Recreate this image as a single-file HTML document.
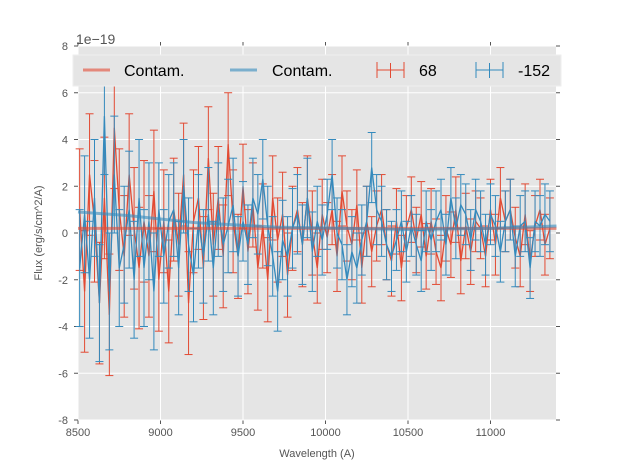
<!DOCTYPE html>
<html><head><meta charset="utf-8"><style>
body{margin:0;background:#fff;font-family:"Liberation Sans",sans-serif}
text{font-family:"Liberation Sans",sans-serif}
</style></head><body>
<svg id="c" width="617" height="467"></svg>
<script>
const startWave = 8510, stepWave = 30;
const redFlux = [1.0,-2.5,2.5,0.5,-3,1.5,-3.5,4.5,1.0,-1.0,2.5,0.2,-1.5,0.5,-1.0,1.8,-2.0,0.5,-2.5,1.0,-0.5,2.5,-3.0,0.5,1.5,-1.5,3.2,-0.5,1.5,-1.0,3.8,0.5,-1.0,2.0,-0.8,1.2,-1.5,0.3,-2.0,1.5,-0.3,0.8,-1.8,0.2,1.0,-0.5,1.5,0.0,-1.5,0.8,-0.2,1.0,-1.0,1.8,0.3,-0.5,1.2,-1.5,0.5,-0.8,0.3,1.0,-0.5,-1.2,0.5,-1.5,0.2,1.0,-0.3,0.8,-1.0,0.5,-0.8,-1.5,0.2,-0.5,1.0,-1.2,0.3,-0.8,0.5,0.2,-1.0,1.0,-0.5,1.5,0.5,1.0,-0.2,-1.0,0.8,-1.2,0.3,1.0,-0.5,0.2];
const blueFlux = [-1.5,0.8,-2.0,1.5,-3.0,5.0,-2.5,2.5,-1.5,-0.5,1.0,-2.0,1.5,-1.5,0.5,-2.5,1.0,-1.0,0.5,1.0,-1.5,2.0,-0.5,-1.8,0.5,-1.0,0.8,-1.5,1.0,-0.5,0.3,1.2,-1.0,0.5,-0.5,1.5,0.8,2.3,0.3,-1.0,-2.5,-0.3,-1.0,0.2,0.8,-0.5,1.5,-0.8,0.5,-0.3,0.8,2.5,0.0,-0.5,-2.0,-0.8,-1.5,-0.3,0.5,2.8,1.0,0.5,-0.5,-1.0,-0.3,0.5,-0.8,0.3,-0.5,-1.2,0.5,-0.3,0.5,1.0,-0.5,1.5,0.2,1.2,0.8,-0.3,1.0,0.5,-0.5,0.8,0.3,-0.8,0.5,1.0,-1.0,0.3,0.5,-1.5,0.5,0.3,0.8,0.5];
const redErrBlocks = [2.6,2.2,1.8,1.5,1.4,1.3];
const blueErrBlocks = [2.5,2.0,1.7,1.5,1.3,1.3];
const redContamWave = [8500,11400];
const redContamFlux = [0.2,0.2];
const blueContamWave = [8500,8800,9200,9700,10500,11000,11400];
const blueContamFlux = [0.9,0.75,0.45,0.25,0.15,0.2,0.3];
const xTicks = [8500,9000,9500,10000,10500,11000];
const yTicks = [-8,-6,-4,-2,0,2,4,6,8];

const L=78,R=556,T=46,B=420,xmin=8500,xmax=11397,ymin=-8,ymax=8;
const X=v=>L+(v-xmin)/(xmax-xmin)*(R-L);
const Y=v=>B-(v-ymin)/(ymax-ymin)*(B-T);
const svg=document.getElementById('c');const NS='http://www.w3.org/2000/svg';
function mk(t,a,p){const e=document.createElementNS(NS,t);for(const k in a)e.setAttribute(k,a[k]);(p||svg).appendChild(e);return e;}
let bg=mk('rect',{x:L,y:T,width:R-L,height:B-T,fill:'#e5e5e5'});


xTicks.forEach(t=>{mk('line',{x1:X(t),x2:X(t),y1:T,y2:B,stroke:'#fff','stroke-width':1});
 mk('line',{x1:X(t),x2:X(t),y1:B,y2:B+4,stroke:'#555'});mk('line',{x1:X(t),x2:X(t),y1:T,y2:T-4,stroke:'#555'});
 let tx=mk('text',{x:X(t),y:B+16,'font-size':11,fill:'#555','text-anchor':'middle'});tx.textContent=t;
 
 });
yTicks.forEach(t=>{mk('line',{x1:L,x2:R,y1:Y(t),y2:Y(t),stroke:'#fff','stroke-width':1});
 mk('line',{x1:L-4,x2:L,y1:Y(t),y2:Y(t),stroke:'#555'});mk('line',{x1:R,x2:R+4,y1:Y(t),y2:Y(t),stroke:'#555'});
 let tx=mk('text',{x:L-10,y:Y(t)+4,'font-size':11,fill:'#555','text-anchor':'end'});tx.textContent=t;
 
 });
function cl(wv,fl,col){mk('polyline',{points:wv.map((w,i)=>X(w)+','+Y(fl[i])).join(' '),fill:'none',stroke:col,'stroke-width':3,'stroke-opacity':0.6});}
function series(fl,eb,col,name){const g=mk('g',{});
 const pts=[];fl.forEach((v,i)=>{const w=startWave+i*stepWave;const e=eb[Math.min(eb.length-1,Math.floor(i/16))];
  const x=X(w);pts.push(x+','+Y(v));
  mk('line',{x1:x,x2:x,y1:Y(v-e),y2:Y(v+e),stroke:col,'stroke-width':1},g);
  mk('line',{x1:x-4,x2:x+4,y1:Y(v-e),y2:Y(v-e),stroke:col,'stroke-width':1},g);
  mk('line',{x1:x-4,x2:x+4,y1:Y(v+e),y2:Y(v+e),stroke:col,'stroke-width':1},g);});
 mk('polyline',{points:pts.join(' '),fill:'none',stroke:col,'stroke-width':1.3},g);}
series(redFlux,redErrBlocks,'#e24a33','series-68');
series(blueFlux,blueErrBlocks,'#348abd','series-152');
cl(redContamWave,redContamFlux,'#e24a33');cl(blueContamWave,blueContamFlux,'#348abd');
// legend
const lg=mk('g',{});
mk('rect',{x:73,y:55,width:488,height:31,fill:'#e5e5e5',stroke:'#eeeeee'},lg);
mk('line',{x1:83,x2:110,y1:70,y2:70,stroke:'#e24a33','stroke-width':3,'stroke-opacity':0.6},lg);
mk('line',{x1:230,x2:257,y1:70,y2:70,stroke:'#348abd','stroke-width':3,'stroke-opacity':0.6},lg);
[[377,'#e24a33'],[476,'#348abd']].forEach(([x,c])=>{mk('line',{x1:x,x2:x+27,y1:70,y2:70,stroke:c},lg);
 mk('line',{x1:x+13.5,x2:x+13.5,y1:63,y2:78,stroke:c},lg);
 mk('line',{x1:x,x2:x,y1:62,y2:78,stroke:c},lg);mk('line',{x1:x+27,x2:x+27,y1:62,y2:78,stroke:c},lg);});
[[124,'Contam.'],[272,'Contam.'],[419,'68'],[518,'-152']].forEach(([x,s])=>{let t=mk('text',{x:x,y:76,'font-size':16,fill:'#000'},lg);t.textContent=s;
 
 });
let ex=mk('text',{x:76,y:44,'font-size':14,fill:'#555'});ex.textContent='1e\u221219';

let xl=mk('text',{x:317,y:457,'font-size':11,fill:'#555','text-anchor':'middle'});xl.textContent='Wavelength (A)';

let yl=mk('text',{x:0,y:0,'font-size':11,fill:'#555','text-anchor':'middle',transform:'translate(42,233) rotate(-90)'});yl.textContent='Flux (erg/s/cm^2/A)';

</script>
</body></html>
